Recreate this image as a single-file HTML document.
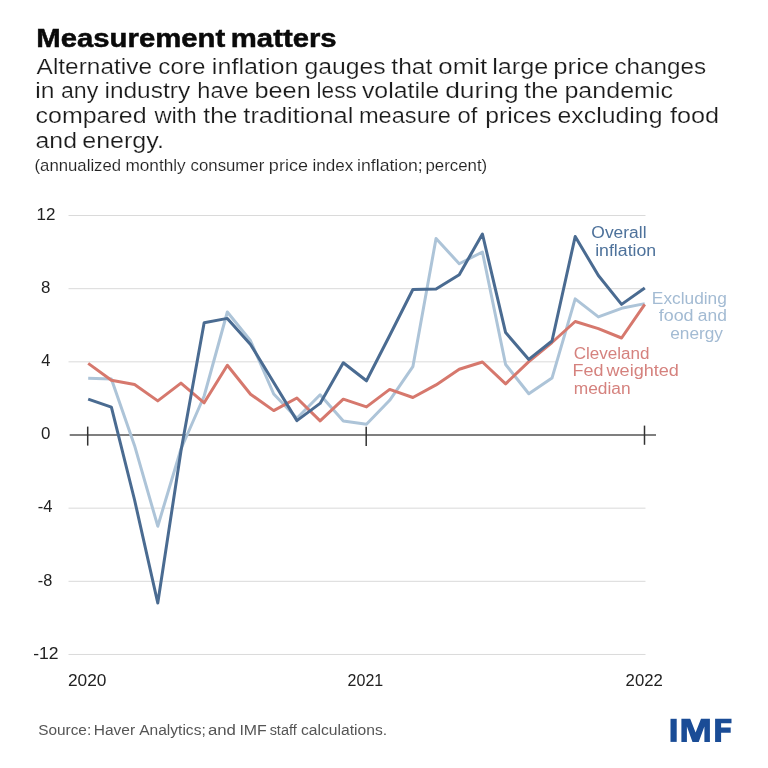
<!DOCTYPE html><html><head><meta charset="utf-8"><style>html,body{margin:0;padding:0;background:#fff;}svg{display:block;will-change:transform;}text{font-family:"Liberation Sans",sans-serif;}</style></head><body>
<svg width="768" height="768" viewBox="0 0 768 768">
<rect width="768" height="768" fill="#fff"/>
<line x1="68.5" y1="215.52" x2="645.5" y2="215.52" stroke="#dadada" stroke-width="1"/>
<line x1="68.5" y1="288.68" x2="645.5" y2="288.68" stroke="#dadada" stroke-width="1"/>
<line x1="68.5" y1="508.16" x2="645.5" y2="508.16" stroke="#dadada" stroke-width="1"/>
<line x1="68.5" y1="581.32" x2="645.5" y2="581.32" stroke="#dadada" stroke-width="1"/>
<line x1="68.5" y1="654.48" x2="645.5" y2="654.48" stroke="#dadada" stroke-width="1"/>
<line x1="68.5" y1="361.84" x2="556" y2="361.84" stroke="#dadada" stroke-width="1"/>
<line x1="69.7" y1="435" x2="656" y2="435" stroke="#555" stroke-width="1.6"/>
<line x1="87.7" y1="426.6" x2="87.7" y2="445.6" stroke="#333" stroke-width="1.5"/>
<line x1="366.2" y1="426.8" x2="366.2" y2="446.0" stroke="#333" stroke-width="1.5"/>
<line x1="644.5" y1="425.6" x2="644.5" y2="444.8" stroke="#333" stroke-width="1.5"/>
<polyline points="88.20,378.30 111.39,379.00 134.58,445.70 157.77,526.20 180.96,449.00 204.15,396.00 227.34,312.00 250.53,340.80 273.72,394.00 296.91,418.30 320.10,394.80 343.29,421.10 366.48,424.20 389.67,400.30 412.86,366.70 436.05,238.50 459.24,263.75 482.43,252.00 505.62,364.50 528.81,393.75 552.00,378.10 575.19,298.90 598.38,316.90 621.57,308.30 644.76,303.60" fill="none" stroke="#adc4d8" stroke-width="3" stroke-linejoin="round"/>
<polyline points="88.20,363.40 111.39,380.30 134.58,384.50 157.77,400.90 180.96,383.10 204.15,402.80 227.34,365.30 250.53,394.20 273.72,410.60 296.91,398.00 320.10,420.90 343.29,399.20 366.48,406.90 389.67,389.40 412.86,397.50 436.05,384.90 459.24,369.30 482.43,362.00 505.62,383.80 528.81,361.70 552.00,342.50 575.19,321.50 598.38,328.60 621.57,338.00 644.76,304.40" fill="none" stroke="#d6786d" stroke-width="3" stroke-linejoin="round"/>
<polyline points="88.20,399.10 111.39,407.20 134.58,500.00 157.77,603.00 180.96,451.00 204.15,322.70 227.34,318.40 250.53,344.50 273.72,382.50 296.91,420.60 320.10,403.40 343.29,362.80 366.48,380.80 389.67,335.50 412.86,289.50 436.05,289.10 459.24,274.70 482.43,234.00 505.62,332.60 528.81,359.40 552.00,341.00 575.19,236.50 598.38,275.50 621.57,304.40 644.76,288.00" fill="none" stroke="#4a6b91" stroke-width="3" stroke-linejoin="round"/>
<g fill="#1a4c96">
<rect x="670.5" y="718.8" width="6.2" height="23.1"/>
<polygon points="681.4,741.9 681.4,718.8 690.2,718.8 695.6,732.5 701.0,718.8 709.9,718.8 709.9,741.9 704.4,741.9 704.4,726.5 698.7,741.9 692.5,741.9 686.9,726.5 686.9,741.9"/>
<polygon points="715.1,741.9 715.1,718.8 731.5,718.8 731.5,723.2 721.1,723.2 721.1,727.6 730.7,727.6 730.7,732.8 721.1,732.8 721.1,741.9"/>
</g>
<text id="t0_0" x="36.26" y="47.3" font-size="26.5" font-weight="bold" fill="#0a0a0a" textLength="189.04" lengthAdjust="spacingAndGlyphs" stroke="#0a0a0a" stroke-width="0.5">Measurement</text>
<text id="t0_1" x="230.84" y="47.3" font-size="26.5" font-weight="bold" fill="#0a0a0a" textLength="105.84" lengthAdjust="spacingAndGlyphs" stroke="#0a0a0a" stroke-width="0.5">matters</text>
<text id="s1_0" x="36.63" y="73.8" font-size="22.3" fill="#1a1a1a" textLength="115.39" lengthAdjust="spacingAndGlyphs" stroke="#fff" stroke-width="0.2">Alternative</text>
<text id="s1_1" x="158.29" y="73.8" font-size="22.3" fill="#1a1a1a" textLength="47.08" lengthAdjust="spacingAndGlyphs" stroke="#fff" stroke-width="0.2">core</text>
<text id="s1_2" x="211.87" y="73.8" font-size="22.3" fill="#1a1a1a" textLength="86.59" lengthAdjust="spacingAndGlyphs" stroke="#fff" stroke-width="0.2">inflation</text>
<text id="s1_3" x="304.47" y="73.8" font-size="22.3" fill="#1a1a1a" textLength="81.30" lengthAdjust="spacingAndGlyphs" stroke="#fff" stroke-width="0.2">gauges</text>
<text id="s1_4" x="391.37" y="73.8" font-size="22.3" fill="#1a1a1a" textLength="41.02" lengthAdjust="spacingAndGlyphs" stroke="#fff" stroke-width="0.2">that</text>
<text id="s1_5" x="438.27" y="73.8" font-size="22.3" fill="#1a1a1a" textLength="48.80" lengthAdjust="spacingAndGlyphs" stroke="#fff" stroke-width="0.2">omit</text>
<text id="s1_6" x="492.16" y="73.8" font-size="22.3" fill="#1a1a1a" textLength="56.24" lengthAdjust="spacingAndGlyphs" stroke="#fff" stroke-width="0.2">large</text>
<text id="s1_7" x="553.34" y="73.8" font-size="22.3" fill="#1a1a1a" textLength="55.68" lengthAdjust="spacingAndGlyphs" stroke="#fff" stroke-width="0.2">price</text>
<text id="s1_8" x="614.49" y="73.8" font-size="22.3" fill="#1a1a1a" textLength="91.72" lengthAdjust="spacingAndGlyphs" stroke="#fff" stroke-width="0.2">changes</text>
<text id="s2_0" x="35.26" y="98.2" font-size="22.3" fill="#1a1a1a" textLength="19.21" lengthAdjust="spacingAndGlyphs" stroke="#fff" stroke-width="0.2">in</text>
<text id="s2_1" x="60.96" y="98.2" font-size="22.3" fill="#1a1a1a" textLength="37.29" lengthAdjust="spacingAndGlyphs" stroke="#fff" stroke-width="0.2">any</text>
<text id="s2_2" x="104.48" y="98.2" font-size="22.3" fill="#1a1a1a" textLength="85.68" lengthAdjust="spacingAndGlyphs" stroke="#fff" stroke-width="0.2">industry</text>
<text id="s2_3" x="197.32" y="98.2" font-size="22.3" fill="#1a1a1a" textLength="51.30" lengthAdjust="spacingAndGlyphs" stroke="#fff" stroke-width="0.2">have</text>
<text id="s2_4" x="254.44" y="98.2" font-size="22.3" fill="#1a1a1a" textLength="56.36" lengthAdjust="spacingAndGlyphs" stroke="#fff" stroke-width="0.2">been</text>
<text id="s2_5" x="316.58" y="98.2" font-size="22.3" fill="#1a1a1a" textLength="40.19" lengthAdjust="spacingAndGlyphs" stroke="#fff" stroke-width="0.2">less</text>
<text id="s2_6" x="361.94" y="98.2" font-size="22.3" fill="#1a1a1a" textLength="77.37" lengthAdjust="spacingAndGlyphs" stroke="#fff" stroke-width="0.2">volatile</text>
<text id="s2_7" x="445.16" y="98.2" font-size="22.3" fill="#1a1a1a" textLength="73.54" lengthAdjust="spacingAndGlyphs" stroke="#fff" stroke-width="0.2">during</text>
<text id="s2_8" x="524.37" y="98.2" font-size="22.3" fill="#1a1a1a" textLength="33.89" lengthAdjust="spacingAndGlyphs" stroke="#fff" stroke-width="0.2">the</text>
<text id="s2_9" x="564.45" y="98.2" font-size="22.3" fill="#1a1a1a" textLength="108.60" lengthAdjust="spacingAndGlyphs" stroke="#fff" stroke-width="0.2">pandemic</text>
<text id="s3_0" x="35.52" y="122.9" font-size="22.3" fill="#1a1a1a" textLength="111.12" lengthAdjust="spacingAndGlyphs" stroke="#fff" stroke-width="0.2">compared</text>
<text id="s3_1" x="154.41" y="122.9" font-size="22.3" fill="#1a1a1a" textLength="42.30" lengthAdjust="spacingAndGlyphs" stroke="#fff" stroke-width="0.2">with</text>
<text id="s3_2" x="203.37" y="122.9" font-size="22.3" fill="#1a1a1a" textLength="34.10" lengthAdjust="spacingAndGlyphs" stroke="#fff" stroke-width="0.2">the</text>
<text id="s3_3" x="243.36" y="122.9" font-size="22.3" fill="#1a1a1a" textLength="109.92" lengthAdjust="spacingAndGlyphs" stroke="#fff" stroke-width="0.2">traditional</text>
<text id="s3_4" x="358.94" y="122.9" font-size="22.3" fill="#1a1a1a" textLength="91.85" lengthAdjust="spacingAndGlyphs" stroke="#fff" stroke-width="0.2">measure</text>
<text id="s3_5" x="457.55" y="122.9" font-size="22.3" fill="#1a1a1a" textLength="19.85" lengthAdjust="spacingAndGlyphs" stroke="#fff" stroke-width="0.2">of</text>
<text id="s3_6" x="485.26" y="122.9" font-size="22.3" fill="#1a1a1a" textLength="66.06" lengthAdjust="spacingAndGlyphs" stroke="#fff" stroke-width="0.2">prices</text>
<text id="s3_7" x="557.52" y="122.9" font-size="22.3" fill="#1a1a1a" textLength="104.97" lengthAdjust="spacingAndGlyphs" stroke="#fff" stroke-width="0.2">excluding</text>
<text id="s3_8" x="670.00" y="122.9" font-size="22.3" fill="#1a1a1a" textLength="49.09" lengthAdjust="spacingAndGlyphs" stroke="#fff" stroke-width="0.2">food</text>
<text id="s4_0" x="35.52" y="147.7" font-size="22.3" fill="#1a1a1a" textLength="41.45" lengthAdjust="spacingAndGlyphs" stroke="#fff" stroke-width="0.2">and</text>
<text id="s4_1" x="82.24" y="147.7" font-size="22.3" fill="#1a1a1a" textLength="81.65" lengthAdjust="spacingAndGlyphs" stroke="#fff" stroke-width="0.2">energy.</text>
<text id="n1_0" x="34.56" y="170.5" font-size="16.2" fill="#222" textLength="86.56" lengthAdjust="spacingAndGlyphs" stroke="#fff" stroke-width="0.12">(annualized</text>
<text id="n1_1" x="125.45" y="170.5" font-size="16.2" fill="#222" textLength="60.28" lengthAdjust="spacingAndGlyphs" stroke="#fff" stroke-width="0.12">monthly</text>
<text id="n1_2" x="190.59" y="170.5" font-size="16.2" fill="#222" textLength="73.68" lengthAdjust="spacingAndGlyphs" stroke="#fff" stroke-width="0.12">consumer</text>
<text id="n1_3" x="268.89" y="170.5" font-size="16.2" fill="#222" textLength="39.03" lengthAdjust="spacingAndGlyphs" stroke="#fff" stroke-width="0.12">price</text>
<text id="n1_4" x="312.56" y="170.5" font-size="16.2" fill="#222" textLength="40.74" lengthAdjust="spacingAndGlyphs" stroke="#fff" stroke-width="0.12">index</text>
<text id="n1_5" x="357.12" y="170.5" font-size="16.2" fill="#222" textLength="65.65" lengthAdjust="spacingAndGlyphs" stroke="#fff" stroke-width="0.12">inflation;</text>
<text id="n1_6" x="425.47" y="170.5" font-size="16.2" fill="#222" textLength="61.69" lengthAdjust="spacingAndGlyphs" stroke="#fff" stroke-width="0.12">percent)</text>
<text id="y12" x="36.55" y="219.8" font-size="16.3" fill="#222" textLength="18.92" lengthAdjust="spacingAndGlyphs">12</text>
<text id="y8" x="40.98" y="293.0" font-size="16.3" fill="#222" textLength="9.40" lengthAdjust="spacingAndGlyphs">8</text>
<text id="y4" x="41.20" y="366.1" font-size="16.3" fill="#222" textLength="9.16" lengthAdjust="spacingAndGlyphs">4</text>
<text id="y0" x="40.98" y="439.3" font-size="16.3" fill="#222" textLength="9.40" lengthAdjust="spacingAndGlyphs">0</text>
<text id="ym4" x="37.78" y="511.9" font-size="16.3" fill="#222" textLength="14.71" lengthAdjust="spacingAndGlyphs">-4</text>
<text id="ym8" x="37.80" y="585.5" font-size="16.3" fill="#222" textLength="14.48" lengthAdjust="spacingAndGlyphs">-8</text>
<text id="ym12" x="33.17" y="658.9" font-size="16.3" fill="#222" textLength="25.37" lengthAdjust="spacingAndGlyphs">-12</text>
<text id="x20" x="67.94" y="686.2" font-size="16.3" fill="#222" textLength="38.51" lengthAdjust="spacingAndGlyphs">2020</text>
<text id="x21" x="347.60" y="686.2" font-size="16.3" fill="#222" textLength="35.61" lengthAdjust="spacingAndGlyphs">2021</text>
<text id="x22" x="625.58" y="686.2" font-size="16.3" fill="#222" textLength="37.27" lengthAdjust="spacingAndGlyphs">2022</text>
<text id="lo1" x="591.37" y="238.1" font-size="15.6" fill="#4e729b" textLength="55.17" lengthAdjust="spacingAndGlyphs">Overall</text>
<text id="lo2" x="595.15" y="255.9" font-size="15.6" fill="#4e729b" textLength="61.05" lengthAdjust="spacingAndGlyphs">inflation</text>
<text id="le1" x="651.89" y="303.8" font-size="15.6" fill="#a3bbd3" textLength="75.00" lengthAdjust="spacingAndGlyphs">Excluding</text>
<text id="le2_0" x="658.71" y="321.4" font-size="15.6" fill="#a3bbd3" textLength="34.86" lengthAdjust="spacingAndGlyphs">food</text>
<text id="le2_1" x="697.88" y="321.4" font-size="15.6" fill="#a3bbd3" textLength="29.07" lengthAdjust="spacingAndGlyphs">and</text>
<text id="le3" x="670.16" y="338.5" font-size="15.6" fill="#a3bbd3" textLength="52.86" lengthAdjust="spacingAndGlyphs">energy</text>
<text id="lc1" x="573.74" y="358.5" font-size="15.6" fill="#d5827e" textLength="75.84" lengthAdjust="spacingAndGlyphs">Cleveland</text>
<text id="lc2_0" x="572.56" y="376.0" font-size="15.6" fill="#d5827e" textLength="30.91" lengthAdjust="spacingAndGlyphs">Fed</text>
<text id="lc2_1" x="606.54" y="376.0" font-size="15.6" fill="#d5827e" textLength="72.34" lengthAdjust="spacingAndGlyphs">weighted</text>
<text id="lc3" x="573.73" y="393.5" font-size="15.6" fill="#d5827e" textLength="56.89" lengthAdjust="spacingAndGlyphs">median</text>
<text id="src_0" x="38.21" y="734.6" font-size="15.5" fill="#555" textLength="53.00" lengthAdjust="spacingAndGlyphs">Source:</text>
<text id="src_1" x="93.80" y="734.6" font-size="15.5" fill="#555" textLength="41.36" lengthAdjust="spacingAndGlyphs">Haver</text>
<text id="src_2" x="139.20" y="734.6" font-size="15.5" fill="#555" textLength="66.55" lengthAdjust="spacingAndGlyphs">Analytics;</text>
<text id="src_3" x="207.92" y="734.6" font-size="15.5" fill="#555" textLength="28.03" lengthAdjust="spacingAndGlyphs">and</text>
<text id="src_4" x="239.46" y="734.6" font-size="15.5" fill="#555" textLength="27.30" lengthAdjust="spacingAndGlyphs">IMF</text>
<text id="src_5" x="269.65" y="734.6" font-size="15.5" fill="#555" textLength="27.05" lengthAdjust="spacingAndGlyphs">staff</text>
<text id="src_6" x="301.00" y="734.6" font-size="15.5" fill="#555" textLength="86.12" lengthAdjust="spacingAndGlyphs">calculations.</text>
</svg></body></html>
